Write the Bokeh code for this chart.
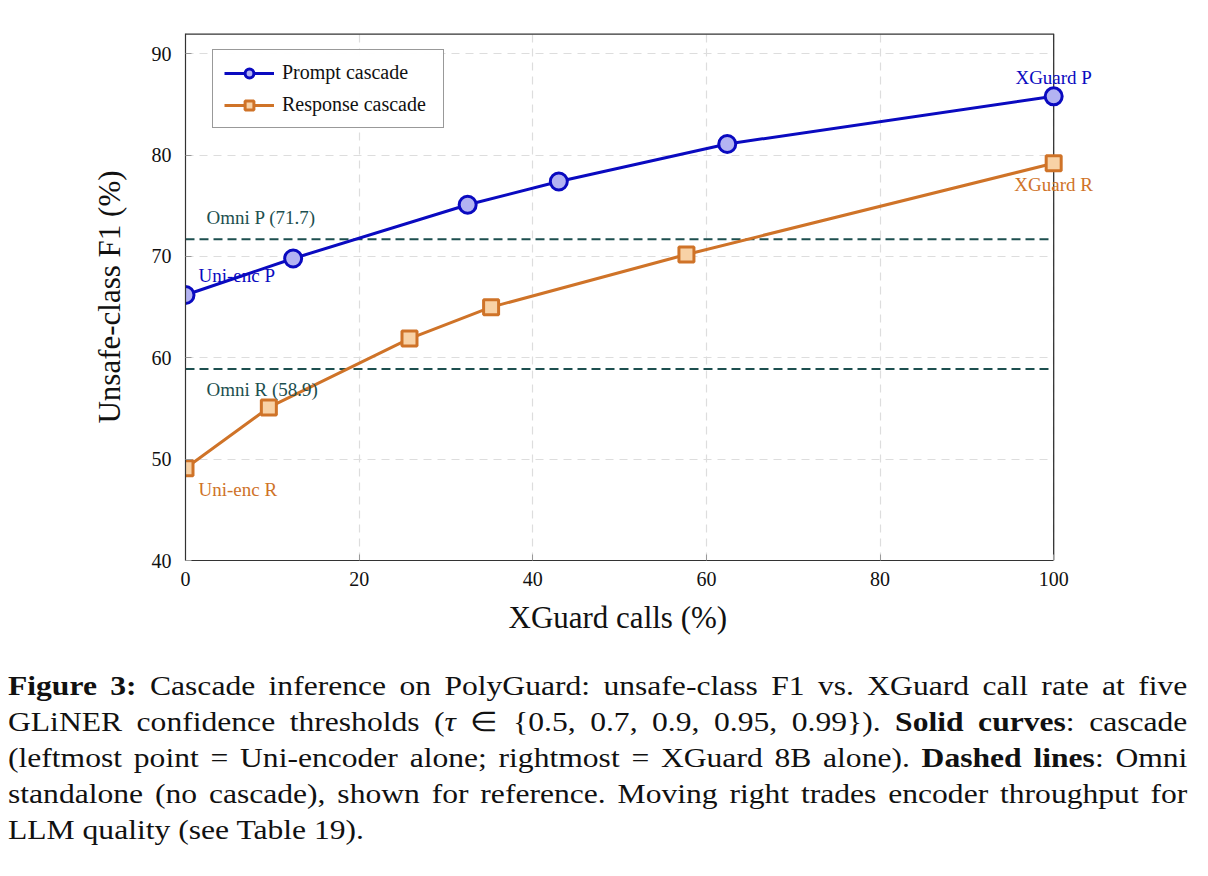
from bokeh.plotting import figure
from bokeh.models import ColumnDataSource, Legend, LegendItem, Div, FixedTicker, Label, Title
from bokeh.layouts import column
from bokeh.embed import file_html
from bokeh.resources import INLINE

# ---- data ----
prompt_x = [0, 12.4, 32.5, 43.0, 62.4, 100]
prompt_y = [66.2, 69.8, 75.1, 77.4, 81.1, 85.8]
resp_x = [0, 9.6, 25.8, 35.2, 57.7, 100]
resp_y = [49.1, 55.1, 61.9, 65.0, 70.2, 79.2]
omni_p = 71.7
omni_r = 58.9
x_ticks = [0, 20, 40, 60, 80, 100]
y_ticks = [40, 50, 60, 70, 80, 90]

X_MIN, X_MAX = 0, 100
Y_MIN, Y_MAX = 40, 92
X_PAD = 10  # extra room right of the axis box for the end labels

SERIF = "Liberation Serif"
BLUE = "#0a0ac0"
BLUE_FILL = "#b3b3f2"
ORANGE = "#cf7328"
ORANGE_FILL = "#f8d2a6"
TEAL = "#1d4f4f"
FRAME = "#333333"

p = figure(width=1208, height=652, x_range=(X_MIN, X_MAX + X_PAD), y_range=(Y_MIN, Y_MAX),
           output_backend="svg", toolbar_location=None,
           min_border_left=185, min_border_right=68, min_border_top=33,
           min_border_bottom=92)
p.background_fill_color = "white"
p.border_fill_color = "white"
p.outline_line_color = None

for g in (p.xgrid, p.ygrid):
    g.grid_line_color = "#dddddd"
    g.grid_line_dash = "8 6"
    g.grid_line_width = 1.2
p.xaxis.ticker = FixedTicker(ticks=x_ticks)
p.yaxis.ticker = FixedTicker(ticks=y_ticks)
p.xaxis.bounds = (X_MIN, X_MAX)
for ax in (p.xaxis[0], p.yaxis[0]):
    ax.axis_line_color = FRAME
    ax.axis_line_width = 1.2
    ax.major_tick_in = 6
    ax.major_tick_out = 0
    ax.major_tick_line_color = "#999999"
    ax.minor_tick_line_color = None
    ax.major_label_text_font = SERIF
    ax.major_label_text_font_size = "20px"
    ax.major_label_text_color = "#111111"
    ax.axis_label_text_font = SERIF
    ax.axis_label_text_font_size = "31px"
    ax.axis_label_text_font_style = "normal"
    ax.axis_label_text_color = "#111111"
p.yaxis.axis_label = "Unsafe-class F1 (%)"
p.xaxis.major_label_standoff = 11
p.yaxis.major_label_standoff = 14
p.yaxis.axis_label_standoff = 22

# x-axis title, centred under the 0-100 axis box (not the padded frame)
xtitle = Title(text="XGuard calls (%)", align="left", offset=323,
               text_font=SERIF, text_font_size="31px", text_font_style="normal",
               text_color="#111111", standoff=18)
p.add_layout(xtitle, "below")

# blank out the grid beyond the axis box
ygrid_props = p.ygrid[0].properties()
if "cross_bounds" in ygrid_props:
    p.ygrid[0].cross_bounds = (X_MIN, X_MAX)
else:
    p.quad(left=[X_MAX], right=[X_MAX + X_PAD], bottom=[Y_MIN], top=[Y_MAX],
           fill_color="white", line_color=None)

# axis box (top and right edges)
p.segment(x0=[X_MIN], y0=[Y_MAX], x1=[X_MAX], y1=[Y_MAX], line_color=FRAME, line_width=2.4)
p.segment(x0=[X_MAX], y0=[Y_MIN], x1=[X_MAX], y1=[Y_MAX], line_color=FRAME, line_width=1.3)

# reference lines
p.segment(x0=[X_MIN, X_MIN], y0=[omni_p, omni_r], x1=[X_MAX, X_MAX], y1=[omni_p, omni_r],
          line_color=TEAL, line_dash="9 5", line_width=2)

src_p = ColumnDataSource(dict(x=prompt_x, y=prompt_y))
src_r = ColumnDataSource(dict(x=resp_x, y=resp_y))

lp = p.line("x", "y", source=src_p, line_color=BLUE, line_width=3)
sp = p.scatter("x", "y", source=src_p, marker="circle", size=17,
               fill_color=BLUE_FILL, line_color=BLUE, line_width=3)
lr = p.line("x", "y", source=src_r, line_color=ORANGE, line_width=3)
sr = p.scatter("x", "y", source=src_r, marker="square", size=15,
               fill_color=ORANGE_FILL, line_color=ORANGE, line_width=3)

def lab(x, y, txt, color, align="left", xo=0, yo=0):
    p.add_layout(Label(x=x, y=y, text=txt, text_color=color,
                       text_font=SERIF, text_font_size="19px",
                       text_align=align, text_baseline="middle",
                       x_offset=xo, y_offset=yo))

lab(prompt_x[0], prompt_y[0], "Uni-enc P", BLUE, xo=13, yo=19)
lab(prompt_x[-1], prompt_y[-1], "XGuard P", BLUE, align="center", yo=19)
lab(resp_x[0], resp_y[0], "Uni-enc R", ORANGE, xo=13, yo=-21)
lab(resp_x[-1], resp_y[-1], "XGuard R", ORANGE, align="center", yo=-21)
lab(X_MIN, omni_p, "Omni P (71.7)", TEAL, xo=21, yo=22)
lab(X_MIN, omni_r, "Omni R (58.9)", TEAL, xo=21, yo=-21)

legend = Legend(items=[
    LegendItem(label="Prompt cascade", renderers=[lp, sp]),
    LegendItem(label="Response cascade", renderers=[lr, sr]),
], location=(27, 432))
legend.label_text_font = SERIF
legend.label_text_font_size = "20px"
legend.label_text_color = "#111111"
legend.border_line_color = FRAME
legend.border_line_width = 1.2
legend.glyph_width = 50
legend.glyph_height = 22
legend.label_height = 22
legend.label_width = 150
legend.label_standoff = 8
legend.spacing = 9
legend.padding = 11
legend.margin = 0
p.add_layout(legend, "center")

lines = [
    "<b>Figure 3:</b> Cascade inference on PolyGuard: unsafe-class F1 vs. XGuard call rate at five",
    "GLiNER confidence thresholds (<i>&tau;</i> &isin; {0.5, 0.7, 0.9, 0.95, 0.99}). <b>Solid curves</b>: cascade",
    "(leftmost point = Uni-encoder alone; rightmost = XGuard 8B alone). <b>Dashed lines</b>: Omni",
    "standalone (no cascade), shown for reference. Moving right trades encoder throughput for",
    "LLM quality (see Table 19).",
]
SCALE = 1.17
inner_w = int(1180 / SCALE)
html = ""
for i, ln in enumerate(lines):
    last = "justify" if i < len(lines) - 1 else "left"
    html += ('<div style="white-space:nowrap;text-align:justify;text-align-last:%s;'
             'width:%dpx;">%s</div>' % (last, inner_w, ln))
html = ('<div style="font-family:\'Liberation Serif\',serif;font-size:27px;line-height:36px;'
        'color:#111111;transform:scaleX(%.2f);transform-origin:0 0;width:%dpx;">%s</div>'
        % (SCALE, inner_w, html))

caption = Div(text=html, width=1200, height=210,
              styles={"margin-left": "8px", "margin-top": "16px"})

layout = column(p, caption, spacing=0)
open("out.html", "w").write(file_html(layout, INLINE))
